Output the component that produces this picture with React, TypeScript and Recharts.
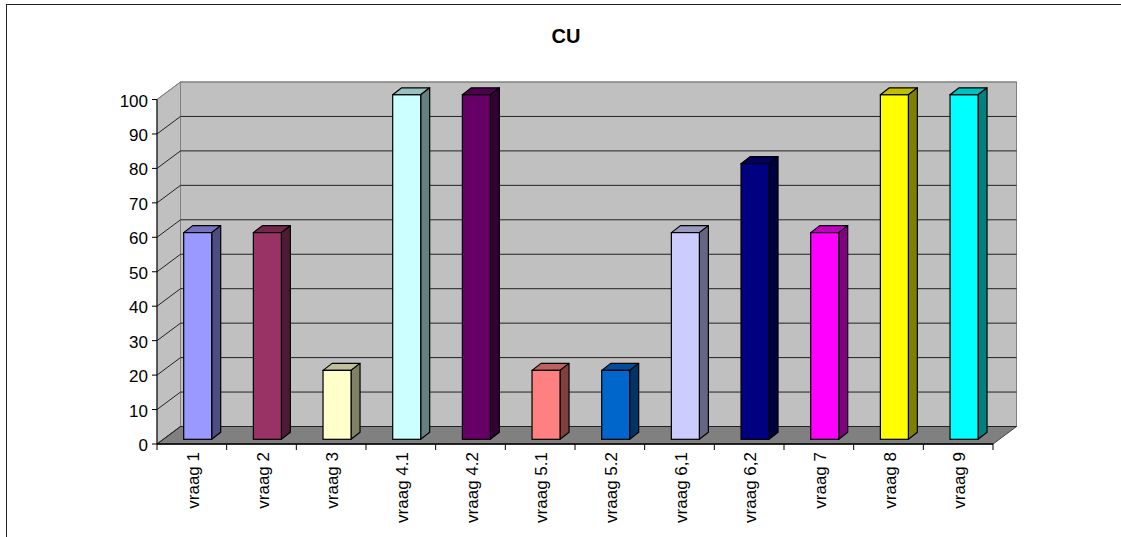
import React from 'react';
import { BarChart, Bar, XAxis, YAxis, CartesianGrid, ReferenceArea } from 'recharts';

const categories = ['vraag 1', 'vraag 2', 'vraag 3', 'vraag 4.1', 'vraag 4.2', 'vraag 5.1', 'vraag 5.2', 'vraag 6,1', 'vraag 6,2', 'vraag 7', 'vraag 8', 'vraag 9'];
const values = [60, 60, 20, 100, 100, 20, 20, 60, 80, 60, 100, 100];
const yTicks = [0, 10, 20, 30, 40, 50, 60, 70, 80, 90, 100];
const title = 'CU';

const frontColors = ['#9999FF', '#993366', '#FFFFCC', '#CCFFFF', '#660066', '#FF8080', '#0066CC', '#CCCCFF', '#000080', '#FF00FF', '#FFFF00', '#00FFFF'];
const topColors = ['#7373BF', '#73264D', '#BFBF99', '#99BFBF', '#4D004D', '#BF6060', '#004D99', '#9999BF', '#000060', '#BF00BF', '#BFBF00', '#00BFBF'];
const sideColors = ['#4D4D80', '#4D1A33', '#808066', '#668080', '#330033', '#804040', '#003366', '#666680', '#000040', '#800080', '#808000', '#008080'];

const data = categories.map((name, i) => ({ name, value: values[i] }));

const FONT = '"Liberation Sans", Arial, sans-serif';
const DX = 23.5;
const DY = -17.5;
const BAR_SHIFT_X = 5.7;
const BAR_SHIFT_Y = -4.7;
const BAR_DX = 9;
const BAR_DY = -7;

const WallShape = (props: any) => {
  const { x, y, width, height } = props;
  const b = y + height;
  return (
    <g>
      <polygon
        points={`${x},${b} ${x},${y} ${x + DX},${y + DY} ${x + DX},${b + DY}`}
        fill="#C0C0C0"
        stroke="#808080"
        strokeWidth={1}
      />
      <rect x={x + DX} y={y + DY} width={width} height={height} fill="#C0C0C0" stroke="#808080" strokeWidth={1} />
      <polygon
        points={`${x},${b} ${x + width},${b} ${x + width + DX},${b + DY} ${x + DX},${b + DY}`}
        fill="#808080"
        stroke="#404040"
        strokeWidth={1}
      />
    </g>
  );
};

const GridLine = (props: any) => {
  const { x1, y1, x2, y2, index, y } = props;
  const isTop = Math.abs(y1 - y) < 1;
  const stroke = isTop ? '#808080' : '#222222';
  return (
    <polyline
      key={`g-${index}-${y1}`}
      points={`${x1},${y1} ${x1 + DX},${y1 + DY} ${x2 + DX},${y2 + DY}`}
      fill="none"
      stroke={stroke}
      strokeWidth={1}
    />
  );
};

const BarShape = (props: any) => {
  const { x, y, width, height, index } = props;
  if (!isFinite(x) || !isFinite(y)) return null;
  const fx = x + BAR_SHIFT_X;
  const fy = y + BAR_SHIFT_Y;
  const i = index ?? 0;
  return (
    <g>
      <polygon
        points={`${fx},${fy} ${fx + width},${fy} ${fx + width + BAR_DX},${fy + BAR_DY} ${fx + BAR_DX},${fy + BAR_DY}`}
        fill={topColors[i]}
        stroke="#000"
        strokeWidth={1.2}
        strokeLinejoin="round"
      />
      <polygon
        points={`${fx + width},${fy} ${fx + width + BAR_DX},${fy + BAR_DY} ${fx + width + BAR_DX},${fy + height + BAR_DY} ${fx + width},${fy + height}`}
        fill={sideColors[i]}
        stroke="#000"
        strokeWidth={1.2}
        strokeLinejoin="round"
      />
      <rect x={fx} y={fy} width={width} height={height} fill={frontColors[i]} stroke="#000" strokeWidth={1.2} />
    </g>
  );
};

const XTick = (props: any) => {
  const { x, y, payload, index, visibleTicksCount } = props;
  const off = payload && isFinite(payload.offset) && payload.offset > 0 ? payload.offset : 34.83;
  const top = y - 8;
  const last = index === (visibleTicksCount ?? categories.length) - 1;
  return (
    <g>
      <line x1={x - off} y1={top} x2={x - off} y2={top + 6} stroke="#000" strokeWidth={1} />
      {last && <line x1={x + off} y1={top} x2={x + off} y2={top + 6} stroke="#000" strokeWidth={1} />}
      <text
        x={x + 1}
        y={y}
        transform={`rotate(-90, ${x + 1}, ${y})`}
        textAnchor="end"
        dy="0.36em"
        fontSize={17}
        fontFamily={FONT}
        fill="#000"
      >
        {payload.value}
      </text>
    </g>
  );
};

export default function App() {
  return (
    <div style={{ position: 'absolute', left: 0, top: 0, width: 1121, height: 537, overflow: 'hidden', background: '#fff' }}>
      <div
        style={{
          position: 'absolute',
          left: 6,
          top: 4,
          width: 1300,
          height: 700,
          borderLeft: '1.5px solid #222',
          borderTop: '1.5px solid #222',
        }}
      />
      <div
        style={{
          position: 'absolute',
          left: 466,
          top: 26,
          width: 200,
          textAlign: 'center',
          fontFamily: FONT,
          fontWeight: 'bold',
          fontSize: 20,
          lineHeight: '20px',
          color: '#000',
        }}
      >
        {title}
      </div>
      <div style={{ position: 'absolute', left: 0, top: 0 }}>
        <BarChart
          width={1121}
          height={537}
          data={data}
          margin={{ top: 99.5, right: 128, bottom: 0, left: 0 }}
          barCategoryGap={0}
        >
          <ReferenceArea
            x1={categories[0]}
            x2={categories[categories.length - 1]}
            y1={0}
            y2={100}
            shape={WallShape}
            ifOverflow="visible"
            zIndex={-300}
          />
          <CartesianGrid vertical={false} horizontal={GridLine} zIndex={-200} />
          <XAxis
            dataKey="name"
            height={93}
            axisLine={{ stroke: '#000', strokeWidth: 1.5 }}
            tickLine={false}
            tickSize={6}
            tickMargin={2}
            interval={0}
            tick={XTick}
          />
          <YAxis
            width={157}
            domain={[0, 100]}
            ticks={yTicks}
            interval={0}
            axisLine={{ stroke: '#000' }}
            tickLine={{ stroke: '#000' }}
            tickSize={5}
            tickMargin={4}
            tick={{ fill: '#000', fontSize: 17, fontFamily: FONT, dy: 1 }}
          />
          <Bar dataKey="value" barSize={28} isAnimationActive={false} shape={BarShape} />
        </BarChart>
      </div>
    </div>
  );
}
